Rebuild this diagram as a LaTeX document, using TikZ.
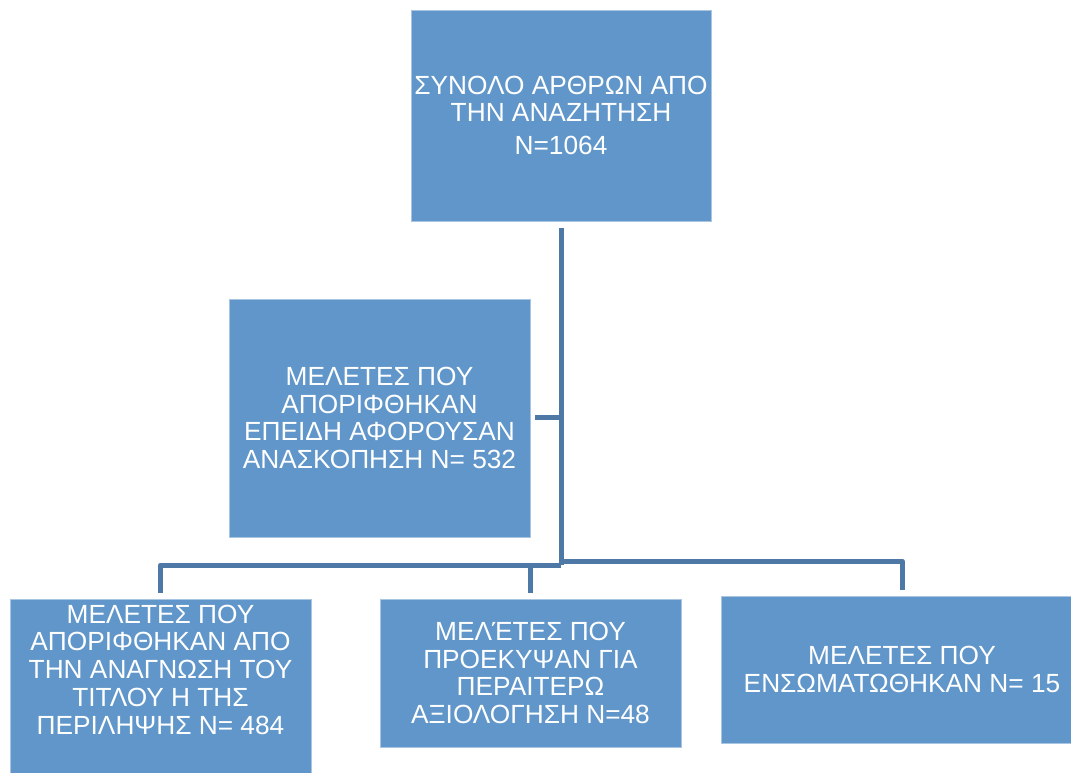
\documentclass[tikz,border=0pt]{standalone}
\usepackage{fontspec}
\setmainfont{Liberation Sans}
\definecolor{boxblue}{RGB}{96,150,201}
\definecolor{linkblue}{RGB}{78,121,167}
\tikzset{
  stage/.style = {fill = boxblue, draw = boxblue!55!white, line width = 0.6pt,
    text = white, align = center, inner sep = 0pt,
    font = \fontsize{19.7}{20.8}\selectfont},
  link/.style = {draw = linkblue, line width = 3.75pt, line join = round}
}
\begin{document}
\begin{tikzpicture}[x = 0.75pt, y = -0.75pt]
    \useasboundingbox (0, 0) rectangle (1071, 773);
    \clip (0, 0) rectangle (1071, 773);
    % boxes
    \node [stage, minimum width = 225pt, minimum height = 158.25pt] (total) at (561, 115.5)
      {ΣΥΝΟΛΟ ΑΡΘΡΩΝ ΑΠΟ\\ ΤΗΝ ΑΝΑΖΗΤΗΣΗ\\[4pt] Ν=1064};
    \node [stage, minimum width = 225.75pt, minimum height = 178.5pt] (review) at (379.5, 418)
      {ΜΕΛΕΤΕΣ ΠΟΥ\\ ΑΠΟΡΙΦΘΗΚΑΝ\\ ΕΠΕΙΔΗ ΑΦΟΡΟΥΣΑΝ\\ ΑΝΑΣΚΟΠΗΣΗ Ν= 532};
    \node [stage, minimum width = 225.75pt, inner ysep = 4pt, text depth = 45pt,
      anchor = north] (title) at (160.5, 599)
      {ΜΕΛΕΤΕΣ ΠΟΥ\\ ΑΠΟΡΙΦΘΗΚΑΝ ΑΠΟ\\ ΤΗΝ ΑΝΑΓΝΩΣΗ ΤΟΥ\\ ΤΙΤΛΟΥ Η ΤΗΣ\\ ΠΕΡΙΛΗΨΗΣ Ν= 484};
    \node [stage, minimum width = 225.75pt, minimum height = 111pt] (further) at (530.5, 673)
      {ΜΕΛΈΤΕΣ ΠΟΥ\\ ΠΡΟΕΚΥΨΑΝ ΓΙΑ\\ ΠΕΡΑΙΤΕΡΩ\\ ΑΞΙΟΛΟΓΗΣΗ Ν=48};
    \node [stage, minimum width = 271.5pt, minimum height = 110.25pt] (included) at (902, 669.5)
      {ΜΕΛΕΤΕΣ ΠΟΥ\\ ΕΝΣΩΜΑΤΩΘΗΚΑΝ Ν= 15};
    % connectors
    \coordinate (hub) at (561, 565);
    \draw [link] ([yshift = -5.25pt]total.south) -- (hub);
    \draw [link] (hub |- review.east) -- ([xshift = 3.75pt]review.east);
    \draw [link] (hub) -| ([yshift = 4.5pt]title.north);
    \draw [link] (further.north |- hub) -- ([yshift = 4.5pt]further.north);
    \draw [link] ([yshift = 3pt]hub) -| ([yshift = 4.5pt]included.north);
\end{tikzpicture}
\end{document}
